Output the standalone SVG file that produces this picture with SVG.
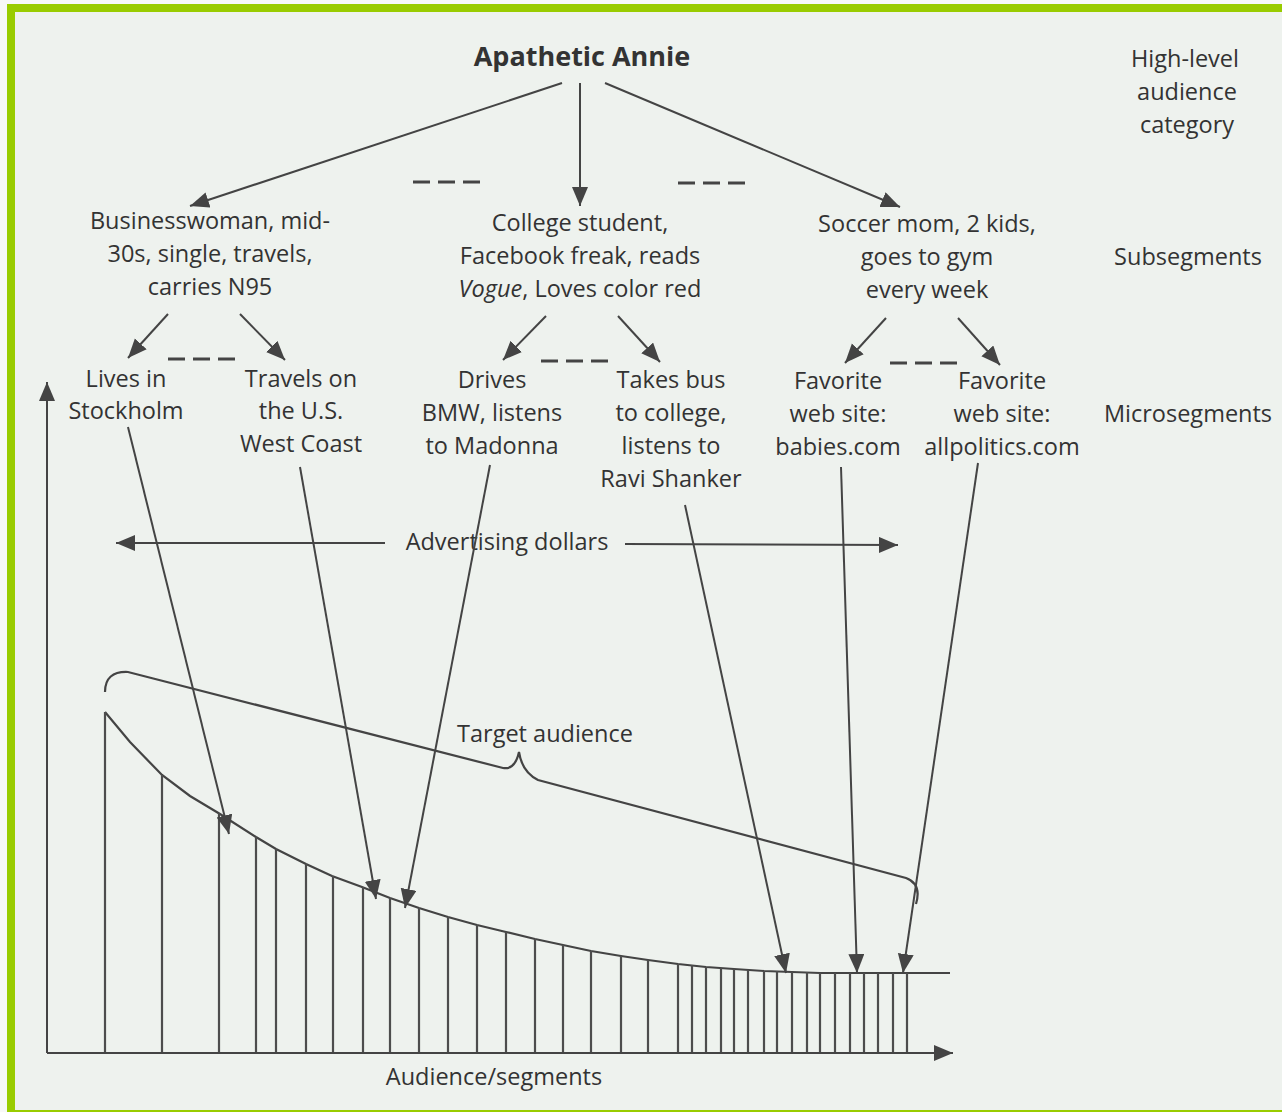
<svg xmlns="http://www.w3.org/2000/svg" width="1282" height="1112" viewBox="0 0 1282 1112">
<defs>
<marker id="ah" markerUnits="userSpaceOnUse" markerWidth="22" markerHeight="18" refX="19" refY="8" orient="auto">
<path d="M0,0 L19,8 L0,16 z" fill="#444"/>
</marker>
<style>
text{font-family:"Open Sans","Liberation Sans",sans-serif;font-size:23.5px;fill:#333;text-anchor:middle}
.b{font-weight:bold;font-size:27px}
.ln{stroke:#444;stroke-width:2.2;fill:none}
.ar{stroke:#444;stroke-width:2;fill:none;marker-end:url(#ah)}
.ds{stroke:#444;stroke-width:3;stroke-dasharray:17 8;fill:none}
.bar{stroke:#4d4d4d;stroke-width:2.2}
</style>
</defs>
<rect x="0" y="0" width="1282" height="1112" fill="#f7f8f7"/>
<rect x="11" y="8" width="1280" height="1106" fill="#eef2ee" stroke="#99cc00" stroke-width="8"/>

<g id="annie"><text class="b" x="582" y="66">Apathetic Annie</text></g>
<g id="label-high"><text x="1185" y="67">High-level</text><text x="1187" y="100">audience</text><text x="1187" y="133">category</text></g>
<g id="label-sub"><text x="1188" y="265">Subsegments</text></g>
<g id="label-micro"><text x="1188" y="422">Microsegments</text></g>

<g id="sub-business"><text x="210" y="229">Businesswoman, mid-</text><text x="210" y="262">30s, single, travels,</text><text x="210" y="295">carries N95</text></g>
<g id="sub-college"><text x="580" y="231">College student,</text><text x="580" y="264">Facebook freak, reads</text><text x="580" y="297"><tspan font-style="italic">Vogue</tspan>, Loves color red</text></g>
<g id="sub-soccer"><text x="927" y="232">Soccer mom, 2 kids,</text><text x="927" y="265">goes to gym</text><text x="927" y="298">every week</text></g>

<g id="micro-stockholm"><text x="126" y="387">Lives in</text><text x="126" y="419">Stockholm</text></g>
<g id="micro-westcoast"><text x="301" y="387">Travels on</text><text x="301" y="419">the U.S.</text><text x="301" y="452">West Coast</text></g>
<g id="micro-bmw"><text x="492" y="388">Drives</text><text x="492" y="421">BMW, listens</text><text x="492" y="454">to Madonna</text></g>
<g id="micro-bus"><text x="671" y="388">Takes bus</text><text x="671" y="421">to college,</text><text x="671" y="454">listens to</text><text x="671" y="487">Ravi Shanker</text></g>
<g id="micro-babies"><text x="838" y="389">Favorite</text><text x="838" y="422">web site:</text><text x="838" y="455">babies.com</text></g>
<g id="micro-allpolitics"><text x="1002" y="389">Favorite</text><text x="1002" y="422">web site:</text><text x="1002" y="455">allpolitics.com</text></g>

<g id="ad-dollars"><text x="507" y="550">Advertising dollars</text></g>
<g id="target"><text x="545" y="742">Target audience</text></g>
<g id="xlabel"><text x="494" y="1085">Audience/segments</text></g>

<g id="chart">
<path class="ln" d="M105,712 L130,742 L162,775 L190,796 L220,814 L256,837 L276,849 L306,864 L332,876 L362,887 L390,898 L419,908 L448,917 L477,925 L506,932 L535,939 L563,945 L591,951 L621,956 L648,960 L678,964 L706,967 L734,969 L764,971 L792,972 L820,973 L950,973"/>
<g class="bar">
<line x1="105" y1="1053" x2="105" y2="712"/>
<line x1="162" y1="1053" x2="162" y2="775"/>
<line x1="219" y1="1053" x2="219" y2="813"/>
<line x1="256" y1="1053" x2="256" y2="837"/>
<line x1="276" y1="1053" x2="276" y2="849"/>
<line x1="306" y1="1053" x2="306" y2="864"/>
<line x1="333" y1="1053" x2="333" y2="876"/>
<line x1="363" y1="1053" x2="363" y2="887"/>
<line x1="390" y1="1053" x2="390" y2="898"/>
<line x1="419" y1="1053" x2="419" y2="908"/>
<line x1="448" y1="1053" x2="448" y2="917"/>
<line x1="477" y1="1053" x2="477" y2="925"/>
<line x1="506" y1="1053" x2="506" y2="932"/>
<line x1="535" y1="1053" x2="535" y2="939"/>
<line x1="563" y1="1053" x2="563" y2="945"/>
<line x1="591" y1="1053" x2="591" y2="951"/>
<line x1="621" y1="1053" x2="621" y2="956"/>
<line x1="648" y1="1053" x2="648" y2="960"/>
<line x1="678" y1="1053" x2="678" y2="964"/>
<line x1="692" y1="1053" x2="692" y2="965"/>
<line x1="706" y1="1053" x2="706" y2="967"/>
<line x1="721" y1="1053" x2="721" y2="968"/>
<line x1="734" y1="1053" x2="734" y2="969"/>
<line x1="748" y1="1053" x2="748" y2="970"/>
<line x1="764" y1="1053" x2="764" y2="971"/>
<line x1="777" y1="1053" x2="777" y2="971"/>
<line x1="792" y1="1053" x2="792" y2="972"/>
<line x1="807" y1="1053" x2="807" y2="972"/>
<line x1="820" y1="1053" x2="820" y2="973"/>
<line x1="835" y1="1053" x2="835" y2="973"/>
<line x1="850" y1="1053" x2="850" y2="973"/>
<line x1="864" y1="1053" x2="864" y2="973"/>
<line x1="878" y1="1053" x2="878" y2="973"/>
<line x1="893" y1="1053" x2="893" y2="973"/>
<line x1="907" y1="1053" x2="907" y2="973"/>
</g>
<path class="ln" d="M105,692 Q105,671 128,672 L503,768 Q515,770 519,752 Q522,772 538,780 L906,878 Q922,884 916,904"/>
</g>

<g id="connectors">
<line class="ar" x1="47" y1="1053" x2="47" y2="382"/>
<line class="ar" x1="47" y1="1053" x2="953" y2="1053"/>
<line class="ar" x1="562" y1="83" x2="190" y2="206"/>
<line class="ar" x1="580" y1="83" x2="580" y2="206"/>
<line class="ar" x1="605" y1="83" x2="900" y2="207"/>
<line class="ds" x1="413" y1="182" x2="480" y2="182"/>
<line class="ds" x1="678" y1="183" x2="745" y2="183"/>
<line class="ar" x1="168" y1="314" x2="128" y2="358"/>
<line class="ar" x1="240" y1="314" x2="285" y2="360"/>
<line class="ds" x1="168" y1="359" x2="235" y2="359"/>
<line class="ar" x1="546" y1="316" x2="503" y2="360"/>
<line class="ar" x1="618" y1="316" x2="660" y2="362"/>
<line class="ds" x1="541" y1="361" x2="608" y2="361"/>
<line class="ar" x1="886" y1="318" x2="845" y2="363"/>
<line class="ar" x1="958" y1="318" x2="1000" y2="365"/>
<line class="ds" x1="890" y1="363" x2="957" y2="363"/>
<line class="ar" x1="385" y1="543" x2="116" y2="543"/>
<line class="ar" x1="625" y1="544" x2="898" y2="545"/>
<line class="ar" x1="128" y1="427" x2="229" y2="834"/>
<line class="ar" x1="300" y1="467" x2="376" y2="899"/>
<line class="ar" x1="490" y1="465" x2="405" y2="908"/>
<line class="ar" x1="685" y1="505" x2="786" y2="973"/>
<line class="ar" x1="841" y1="467" x2="857" y2="973"/>
<line class="ar" x1="978" y1="463" x2="903" y2="973"/>
</g>
</svg>
